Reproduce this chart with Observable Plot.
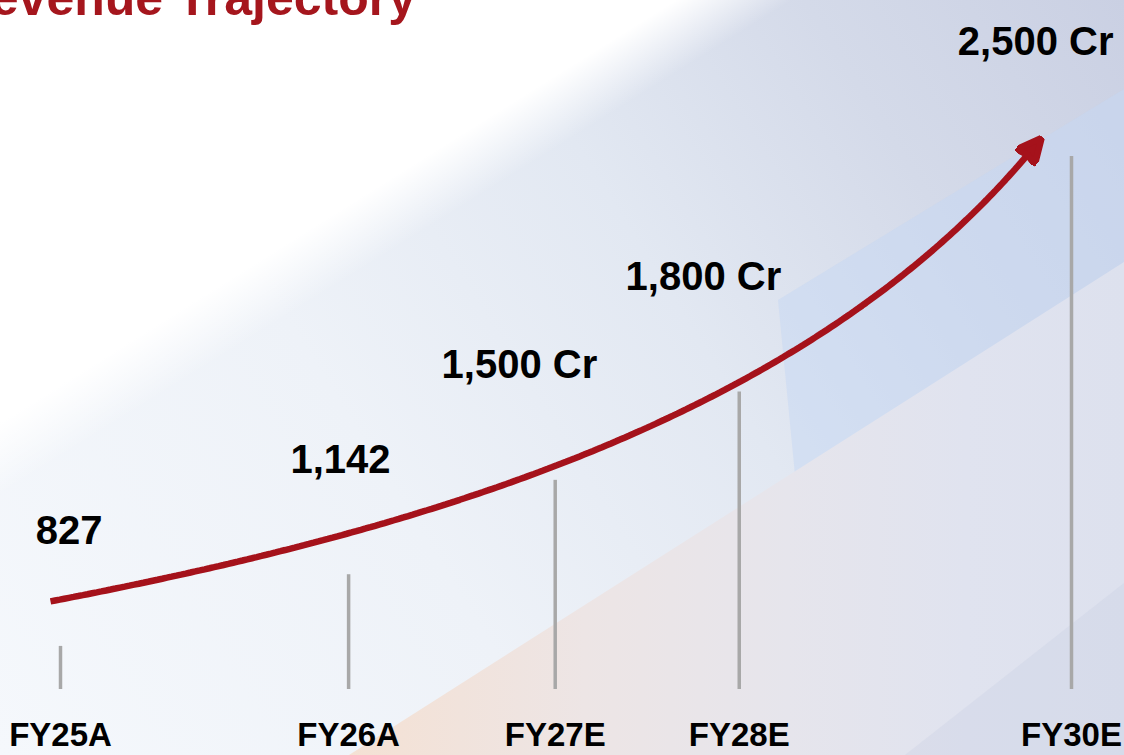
<!DOCTYPE html>
<html>
<head>
<meta charset="utf-8">
<script src="https://cdn.jsdelivr.net/npm/d3@7"></script>
<script src="https://cdn.jsdelivr.net/npm/@observablehq/plot@0.6"></script>
<style>
  html, body { margin: 0; padding: 0; width: 1124px; height: 755px; overflow: hidden; background: #ffffff; }
  #wrap { position: relative; width: 1124px; height: 755px; overflow: hidden; font-family: "Liberation Sans", Arial, Helvetica, sans-serif; }
  .bg { position: absolute; left: 0; top: 0; width: 1124px; height: 755px; }
  #bg0 { background: linear-gradient(58deg, #f5f8fc 0%, #eef2f8 35%, #e2e8f2 60%, #d4dae9 80%, #cad0e3 100%); }
  #bg1 { background: linear-gradient(148deg, #ffffff 0%, #ffffff 29%, rgba(255,255,255,0) 34%); }
  #bg2 { clip-path: polygon(778px 300px, 1124px 89px, 1124px 265px, 795px 475px); background: rgba(197,216,243,0.5); }
  #bg3 { clip-path: polygon(349px 755px, 1124px 262px, 1124px 755px); background: linear-gradient(to right, #f5e1d3 30%, #ede5e5 52%, #e6e5ec 70%, #e0e3ef 86%, #dde1ee 100%); }
  #bg4 { clip-path: polygon(905px 755px, 1124px 583px, 1124px 755px); background: rgba(200,206,226,0.3); }
  #title { position: absolute; right: 708px; top: -27px; margin: 0; font-size: 50px; line-height: 50px; font-weight: 700; color: #a5161d; white-space: nowrap; z-index: 3; }
  #chart { position: absolute; left: 0; top: 0; z-index: 2; }
</style>
</head>
<body>
<div id="wrap">
  <div class="bg" id="bg0"></div>
  <div class="bg" id="bg1"></div>
  <div class="bg" id="bg2"></div>
  <div class="bg" id="bg3"></div>
  <div class="bg" id="bg4"></div>
  <div id="chart"></div>
  <div id="title">Revenue Trajectory</div>
</div>
<script>
// ---- data ----
const categories = ["FY25A", "FY26A", "FY27E", "FY28E", "FY30E"];
const fiscalYears = [2025, 2026, 2027, 2028, 2030];
const revenue = [827, 1142, 1500, 1800, 2500];
const valueLabels = ["827", "1,142", "1,500 Cr", "1,800 Cr", "2,500 Cr"];

const rows = categories.map((c, i) => ({
  category: c,
  t: fiscalYears[i] - fiscalYears[0],
  revenue: revenue[i],
  label: valueLabels[i]
}));
const first = rows[0], last = rows[rows.length - 1];
const trend = [{x1: first.t, y1: first.revenue, x2: last.t, y2: last.revenue}];
const tickValues = rows.map((d) => d.t);

// smooth trend curve (cubic with asymmetric bend, shortened at the end for the head)
function trendCurve({bendStart = 15, bendEnd = 28, trimEnd = 0} = {}) {
  const rad = Math.PI / 180;
  return (context) => {
    let pts = [];
    return {
      areaStart() {}, areaEnd() {},
      lineStart() { pts = []; },
      point(x, y) { pts.push([+x, +y]); },
      lineEnd() {
        if (pts.length < 2) return;
        const [x0, y0] = pts[0], [x3, y3] = pts[pts.length - 1];
        const L = Math.hypot(x3 - x0, y3 - y0), a = Math.atan2(y3 - y0, x3 - x0), h = L / 3;
        const a0 = a + bendStart * rad, a1 = a - bendEnd * rad;
        const x1 = x0 + h * Math.cos(a0), y1 = y0 + h * Math.sin(a0);
        const x2 = x3 - h * Math.cos(a1), y2 = y3 - h * Math.sin(a1);
        const B = (t) => {
          const u = 1 - t;
          return [u*u*u*x0 + 3*u*u*t*x1 + 3*u*t*t*x2 + t*t*t*x3,
                  u*u*u*y0 + 3*u*u*t*y1 + 3*u*t*t*y2 + t*t*t*y3];
        };
        const N = 240, P = [], len = [0];
        for (let i = 0; i <= N; ++i) {
          P.push(B(i / N));
          if (i) len.push(len[i - 1] + Math.hypot(P[i][0] - P[i - 1][0], P[i][1] - P[i - 1][1]));
        }
        const stop = len[N] - trimEnd;
        context.moveTo(P[0][0], P[0][1]);
        for (let i = 1; i <= N; ++i) {
          if (len[i] >= stop) {
            const f = (stop - len[i - 1]) / (len[i] - len[i - 1]);
            if (f > 0.1) context.lineTo(P[i - 1][0] + f * (P[i][0] - P[i - 1][0]), P[i - 1][1] + f * (P[i][1] - P[i - 1][1]));
            break;
          }
          context.lineTo(P[i][0], P[i][1]);
        }
      }
    };
  };
}

// filled arrowhead marker
function headMarker(color, context) {
  const doc = (context && context.document) || document;
  const ns = "http://www.w3.org/2000/svg";
  const m = doc.createElementNS(ns, "marker");
  m.setAttribute("viewBox", "-12 -13 28 26");
  m.setAttribute("markerWidth", 28);
  m.setAttribute("markerHeight", 26);
  m.setAttribute("markerUnits", "userSpaceOnUse");
  m.setAttribute("refX", 0);
  m.setAttribute("refY", 0);
  m.setAttribute("orient", "auto");
  const p = doc.createElementNS(ns, "path");
  p.setAttribute("d", "M15,0L-10,-12L-7,0L-10,12Z");
  p.setAttribute("fill", color);
  m.appendChild(p);
  return m;
}

const font = "'Liberation Sans', Arial, Helvetica, sans-serif";

function build(marker) {
  return Plot.plot({
    width: 1124,
    height: 755,
    marginLeft: 60,
    marginRight: 53,
    marginTop: 10,
    marginBottom: 66,
    x: {type: "pow", exponent: 0.78, domain: [0, 5], label: null},
    y: {type: "pow", exponent: 1.5, domain: [0, 2700], axis: null, label: null},
    style: {background: "transparent", overflow: "visible", fontFamily: font, color: "#000"},
    marks: [
      // y1 is the upper end (value), y2 the baseline; the inset leaves a gap under the value
      Plot.ruleX(rows, {x: "t", y1: "revenue", y2: 0, stroke: "#a8a8a8", strokeWidth: 3.5, insetTop: 72}),
      Plot.link(trend, {
        x1: "x1", y1: "y1", x2: "x2", y2: "y2",
        curve: trendCurve({bendStart: 15, bendEnd: 28, trimEnd: 48}),
        stroke: "#a5121b", strokeWidth: 6.5, strokeLinecap: "butt",
        dx: -10, dy: 27,
        markerEnd: marker
      }),
      Plot.text(rows, {
        x: "t", y: "revenue", text: "label",
        textAnchor: "end", lineAnchor: "bottom", dx: 42, dy: -30,
        fontSize: 40, fontWeight: "bold", fill: "#000", fontFamily: font
      }),
      Plot.axisX(tickValues, {
        tickFormat: (t) => categories[tickValues.indexOf(t)],
        tickSize: 0, tickPadding: 33, fontSize: 33, fontWeight: "bold",
        color: "#000", label: null, fontFamily: font
      })
    ]
  });
}

let chart;
try { chart = build(headMarker); } catch (e) { chart = build("arrow"); }
document.getElementById("chart").append(chart);
</script>
</body>
</html>
